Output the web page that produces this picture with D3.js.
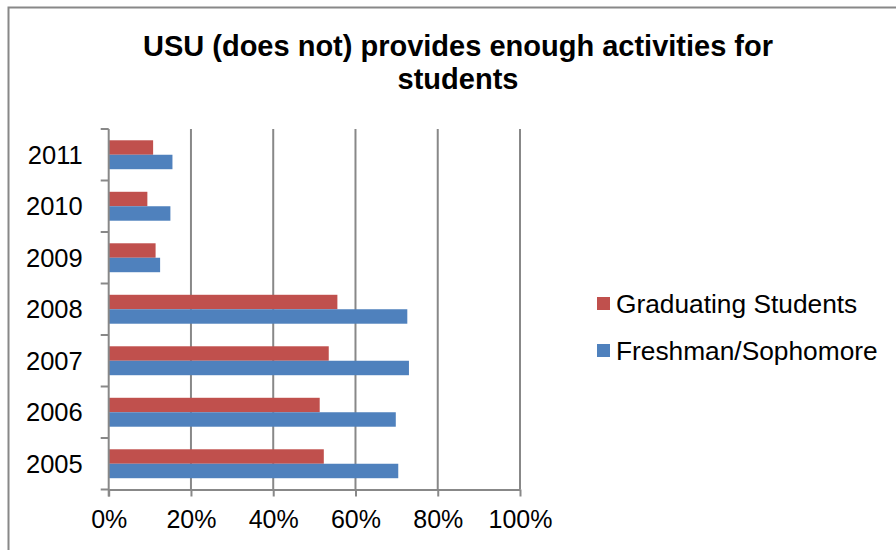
<!DOCTYPE html>
<html>
<head>
<meta charset="utf-8">
<script src="https://cdn.jsdelivr.net/npm/d3@7"></script>
<style>
  body { margin: 0; background: #fff; }
  svg { display: block; font-family: "Liberation Sans", Arial, sans-serif; }
</style>
</head>
<body>
<div id="root"></div>
<script>
// chart data
const years = ["2011", "2010", "2009", "2008", "2007", "2006", "2005"];
const seriesNames = ["Graduating Students", "Freshman/Sophomore"];
const graduating = [0.108, 0.094, 0.114, 0.556, 0.535, 0.513, 0.523];
const freshman = [0.155, 0.150, 0.125, 0.726, 0.730, 0.698, 0.704];
const xTicks = [0, 0.2, 0.4, 0.6, 0.8, 1.0];
const colors = ["#C0504D", "#4F81BD"];

const width = 896, height = 550;
const margin = { top: 129, left: 108.7, right: 376, bottom: 60.5 };

const svg = d3.select("#root").append("svg")
  .attr("width", width)
  .attr("height", height);

// outer frame
svg.append("rect")
  .attr("x", 8.5).attr("y", 7.5)
  .attr("width", 900).attr("height", 560)
  .attr("fill", "none")
  .attr("stroke", "#888")
  .attr("stroke-width", 2);

// title
const title = svg.append("text")
  .attr("text-anchor", "middle")
  .attr("font-weight", "bold")
  .attr("font-size", "29px")
  .attr("fill", "#000");
title.append("tspan").attr("x", 458).attr("y", 56).text("USU (does not) provides enough activities for");
title.append("tspan").attr("x", 458).attr("y", 89).text("students");

const x = d3.scaleLinear()
  .domain([0, 1])
  .range([margin.left, width - margin.right]);

const y = d3.scaleBand()
  .domain(years)
  .range([margin.top, height - margin.bottom])
  .paddingInner(0);

const ySub = d3.scaleBand()
  .domain(seriesNames)
  .range([0, y.bandwidth()])
  .paddingInner(0)
  .paddingOuter(0.78);

// gridlines
svg.append("g")
  .selectAll("line")
  .data(xTicks.slice(1))
  .join("line")
  .attr("x1", d => x(d)).attr("x2", d => x(d))
  .attr("y1", margin.top).attr("y2", height - margin.bottom)
  .attr("stroke", "#888")
  .attr("stroke-width", 2);

// bars
const rows = years.map((yr, i) => ({ year: yr, values: [graduating[i], freshman[i]] }));

const groups = svg.append("g")
  .selectAll("g")
  .data(rows)
  .join("g")
  .attr("transform", d => "translate(0," + y(d.year) + ")");

groups.selectAll("rect")
  .data(d => d.values.map((v, j) => ({ name: seriesNames[j], value: v, c: colors[j] })))
  .join("rect")
  .attr("x", x(0))
  .attr("y", d => ySub(d.name))
  .attr("width", d => x(d.value) - x(0))
  .attr("height", ySub.bandwidth())
  .attr("fill", d => d.c);

// x axis
const xAxis = svg.append("g")
  .attr("transform", "translate(0," + (height - margin.bottom) + ")")
  .call(d3.axisBottom(x).tickValues(xTicks).tickFormat(d3.format(".0%")).tickSize(7).tickSizeOuter(0).tickPadding(14));
xAxis.select(".domain").attr("stroke", "#888").attr("stroke-width", 2);
xAxis.selectAll(".tick line").attr("stroke", "#888").attr("stroke-width", 2);
xAxis.selectAll("text").attr("font-size", "25px").attr("fill", "#000").attr("font-family", "Liberation Sans, Arial, sans-serif");

// y axis: line + boundary ticks
const yAxis = svg.append("g");
yAxis.append("line")
  .attr("x1", x(0)).attr("x2", x(0))
  .attr("y1", margin.top).attr("y2", height - margin.bottom + 7)
  .attr("stroke", "#888").attr("stroke-width", 2);
yAxis.selectAll(".bt")
  .data(years)
  .join("line")
  .attr("class", "bt")
  .attr("x1", x(0) - 8).attr("x2", x(0))
  .attr("y1", d => y(d)).attr("y2", d => y(d))
  .attr("stroke", "#888").attr("stroke-width", 2);
yAxis.append("line")
  .attr("x1", x(0) - 8).attr("x2", x(0))
  .attr("y1", height - margin.bottom).attr("y2", height - margin.bottom)
  .attr("stroke", "#888").attr("stroke-width", 2);
yAxis.selectAll("text")
  .data(years)
  .join("text")
  .attr("x", x(0) - 26)
  .attr("y", d => y(d) + y.bandwidth() / 2)
  .attr("dy", "0.35em")
  .attr("text-anchor", "end")
  .attr("font-size", "25.5px")
  .attr("fill", "#000")
  .text(d => d);

// legend
const legendY = [304, 351];
const legend = svg.append("g")
  .selectAll("g")
  .data(seriesNames)
  .join("g")
  .attr("transform", (d, i) => "translate(597," + legendY[i] + ")");
legend.append("rect")
  .attr("x", 0).attr("y", -7)
  .attr("width", 13).attr("height", 13)
  .attr("fill", (d, i) => colors[i]);
legend.append("text")
  .attr("x", 19)
  .attr("dy", "0.35em")
  .attr("font-size", "26.3px")
  .attr("fill", "#000")
  .text(d => d);
</script>
</body>
</html>
